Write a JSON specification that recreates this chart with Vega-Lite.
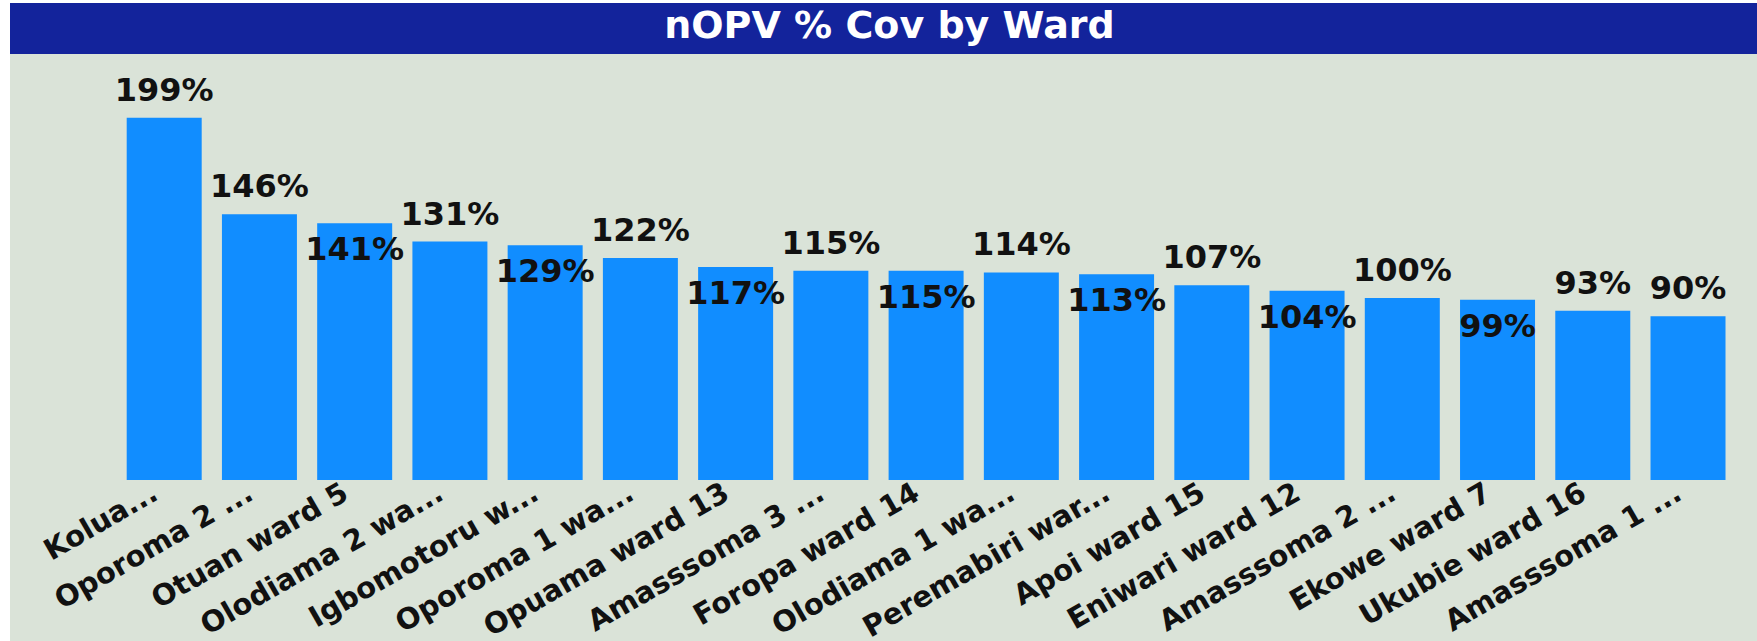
{
  "$schema": "https://vega.github.io/schema/vega-lite/v6.json",
  "background": "white",
  "padding": {"left": 10, "top": 3, "right": 0, "bottom": 0},
  "spacing": 0,
  "config": {"view": {"stroke": null}, "font": "DejaVu Sans"},
  "vconcat": [
    {
      "width": 1747,
      "height": 51,
      "view": {"fill": "#13239b", "stroke": null},
      "data": {"values": [{"title": "nOPV % Cov by Ward"}]},
      "mark": {"type": "text", "font": "DejaVu Sans", "fontWeight": "bold", "fontSize": 38, "color": "white", "baseline": "alphabetic", "align": "center", "dy": 9, "dx": 6},
      "encoding": {"text": {"field": "title", "type": "nominal"}}
    },
    {
      "width": 1747,
      "height": 587,
      "view": {"fill": "#dae3d8", "stroke": null},
      "data": {"values": [
        {"ward": "Kolua...", "cov": 1.99},
        {"ward": "Oporoma 2 ...", "cov": 1.46},
        {"ward": "Otuan ward 5", "cov": 1.41},
        {"ward": "Olodiama 2 wa...", "cov": 1.31},
        {"ward": "Igbomotoru w...", "cov": 1.29},
        {"ward": "Oporoma 1 wa...", "cov": 1.22},
        {"ward": "Opuama ward 13", "cov": 1.17},
        {"ward": "Amasssoma 3 ...", "cov": 1.15},
        {"ward": "Foropa ward 14", "cov": 1.15},
        {"ward": "Olodiama 1 wa...", "cov": 1.14},
        {"ward": "Peremabiri war...", "cov": 1.13},
        {"ward": "Apoi ward 15", "cov": 1.07},
        {"ward": "Eniwari ward 12", "cov": 1.04},
        {"ward": "Amasssoma 2 ...", "cov": 1.00},
        {"ward": "Ekowe ward 7", "cov": 0.99},
        {"ward": "Ukubie ward 16", "cov": 0.93},
        {"ward": "Amasssoma 1 ...", "cov": 0.90}
      ]},
      "encoding": {
        "x": {
          "field": "ward",
          "type": "nominal",
          "sort": null,
          "scale": {"paddingInner": 0.2126, "paddingOuter": 0.778, "align": 0.7875},
          "axis": {
            "title": null,
            "labelAngle": -30,
            "labelFont": "DejaVu Sans",
            "labelFontWeight": "bold",
            "labelFontSize": 29,
            "labelColor": "#111111",
            "ticks": false,
            "domain": false,
            "grid": false,
            "labelPadding": -2,
            "labelOffset": -16,
            "labelLimit": 400,
            "labelOverlap": false,
            "offset": -161
          }
        }
      },
      "layer": [
        {
          "mark": {"type": "bar", "color": "#118dff"},
          "encoding": {
            "y": {"field": "cov", "type": "quantitative", "scale": {"domain": [-0.8843, 2.34], "nice": false, "zero": false}, "axis": null},
            "y2": {"datum": 0}
          }
        },
        {
          "transform": [{"filter": {"not": {"field": "ward", "oneOf": ["Otuan ward 5", "Igbomotoru w...", "Opuama ward 13", "Foropa ward 14", "Peremabiri war...", "Eniwari ward 12", "Ekowe ward 7"]}}}],
          "mark": {"type": "text", "font": "DejaVu Sans", "fontWeight": "bold", "fontSize": 32, "color": "#111111", "baseline": "alphabetic", "align": "center", "dy": -17},
          "encoding": {
            "y": {"field": "cov", "type": "quantitative"},
            "text": {"field": "cov", "type": "quantitative", "format": ".0%"}
          }
        },
        {
          "transform": [{"filter": {"field": "ward", "oneOf": ["Otuan ward 5", "Igbomotoru w...", "Opuama ward 13", "Foropa ward 14", "Peremabiri war...", "Eniwari ward 12", "Ekowe ward 7"]}}],
          "mark": {"type": "text", "font": "DejaVu Sans", "fontWeight": "bold", "fontSize": 32, "color": "#111111", "baseline": "alphabetic", "align": "center", "dy": 37},
          "encoding": {
            "y": {"field": "cov", "type": "quantitative"},
            "text": {"field": "cov", "type": "quantitative", "format": ".0%"}
          }
        }
      ]
    }
  ]
}
